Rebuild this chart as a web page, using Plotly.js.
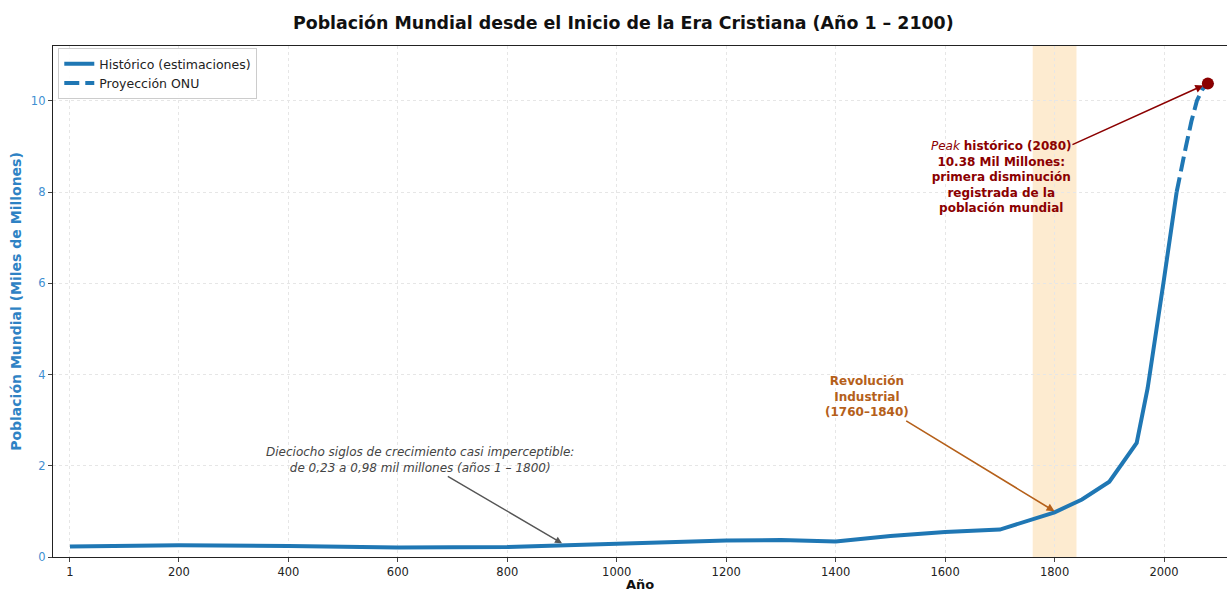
<!DOCTYPE html>
<html>
<head>
<meta charset="utf-8">
<script src="https://cdn.plot.ly/plotly-3.0.1.min.js"></script>
<style>html,body{margin:0;padding:0;background:#fff;}#chart{width:1227px;height:592px;}</style>
</head>
<body>
<div id="chart"></div>
<script>
// Historical estimates (billions)
const histYears = [1, 200, 400, 600, 800, 1000, 1100, 1200, 1300, 1400, 1500, 1600, 1700, 1750, 1800, 1850, 1900, 1950, 1970, 2000, 2023];
const histValues = [0.23, 0.26, 0.24, 0.21, 0.22, 0.30, 0.32, 0.36, 0.37, 0.34, 0.46, 0.55, 0.60, 0.79, 0.98, 1.26, 1.65, 2.50, 3.70, 6.10, 8.00];
// UN projection (billions)
const projYears = [2023, 2030, 2040, 2050, 2060, 2070, 2080, 2090, 2100];
const projValues = [8.00, 8.45, 9.00, 9.55, 10.00, 10.25, 10.38, 10.35, 10.30];
// Peak
const peakYear = [2080];
const peakValue = [10.38];
// Ticks
const xTickVals = [1, 200, 400, 600, 800, 1000, 1200, 1400, 1600, 1800, 2000];
const xTickText = ["1", "200", "400", "600", "800", "1000", "1200", "1400", "1600", "1800", "2000"];
const yTickVals = [0, 2, 4, 6, 8, 10];
const yTickText = ["0", "2", "4", "6", "8", "10"];

const FONT = "DejaVu Sans, Verdana, sans-serif";
const BLUE = "#1f77b4";

const traces = [
  {x: histYears, y: histValues, type: "scatter", mode: "lines", name: "Histórico (estimaciones)",
   line: {color: BLUE, width: 4}},
  {x: projYears, y: projValues, type: "scatter", mode: "lines", name: "Proyección ONU",
   line: {color: BLUE, width: 4, dash: "15px,6px"}},
  {x: peakYear, y: peakValue, type: "scatter", mode: "markers", showlegend: false,
   marker: {color: "#8b0000", size: 12}}
];

const layout = {
  width: 1227, height: 592,
  margin: {l: 53, r: 0, t: 46, b: 35},
  paper_bgcolor: "#fff", plot_bgcolor: "#fff",
  font: {family: FONT, size: 12, color: "#222"},
  title: {text: "<b>Población Mundial desde el Inicio de la Era Cristiana (Año 1 – 2100)</b>",
          x: 0.508, xref: "container", xanchor: "center", y: 0.962, yanchor: "middle",
          font: {family: FONT, size: 17.4, color: "#111"}},
  showlegend: true,
  legend: {x: 0.0045, y: 0.996, xanchor: "left", yanchor: "top",
           bgcolor: "rgba(255,255,255,0.9)", bordercolor: "#cccccc", borderwidth: 1,
           font: {family: FONT, size: 12.5, color: "#222"}, tracegroupgap: 0},
  xaxis: {
    range: [-30, 2115], tickvals: xTickVals, ticktext: xTickText,
    showline: true, linecolor: "#222", linewidth: 1.2, mirror: true,
    ticks: "outside", ticklen: 4, tickcolor: "#444",
    tickfont: {family: FONT, size: 11.5, color: "#222"},
    showgrid: true, gridcolor: "#e6e6e6", griddash: "dot", gridwidth: 1,
    zeroline: false, automargin: false,
    title: {text: "<b>Año</b>", font: {family: FONT, size: 13, color: "#111"}, standoff: 9}
  },
  yaxis: {
    range: [0, 11.2], tickvals: yTickVals, ticktext: yTickText,
    showline: true, linecolor: "#222", linewidth: 1.2,
    ticks: "outside", ticklen: 4, tickcolor: "#444",
    tickfont: {family: FONT, size: 11.5, color: "#3f8fd2"},
    showgrid: true, gridcolor: "#e6e6e6", griddash: "dot", gridwidth: 1,
    zeroline: false, automargin: false,
    title: {text: "<b>Población Mundial (Miles de Millones)</b>", font: {family: FONT, size: 14, color: "#2e82c4"}, standoff: 6}
  },
  shapes: [
    {type: "rect", xref: "x", yref: "paper", x0: 1760, x1: 1840, y0: 0, y1: 1,
     fillcolor: "#fdebd0", line: {width: 0}, layer: "below"}
  ],
  annotations: [
    {x: 900, y: 0.30, xref: "x", yref: "y", ax: 640, ay: 2.13, axref: "x", ayref: "y",
     text: "<i>Dieciocho siglos de crecimiento casi imperceptible:<br>de 0,23 a 0,98 mil millones (años 1 – 1800)</i>",
     font: {family: FONT, size: 12, color: "#444"}, showarrow: true, arrowhead: 2, arrowsize: 1,
     arrowwidth: 1.4, arrowcolor: "#555", align: "center"},
    {x: 1800, y: 1.0, xref: "x", yref: "y", ax: 1457, ay: 3.51, axref: "x", ayref: "y",
     text: "<b>Revolución<br>Industrial<br>(1760–1840)</b>",
     font: {family: FONT, size: 12, color: "#b5601a"}, showarrow: true, arrowhead: 2, arrowsize: 1,
     arrowwidth: 1.6, arrowcolor: "#b5601a", align: "center"},
    {x: 2080, y: 10.38, xref: "x", yref: "y", ax: 1702, ay: 8.33, axref: "x", ayref: "y",
     text: "<i>Peak</i> <b>histórico (2080)</b><br><b>10.38 Mil Millones:</b><br><b>primera disminución</b><br><b>registrada de la</b><br><b>población mundial</b>",
     font: {family: FONT, size: 12, color: "#8b0000"}, showarrow: true, arrowhead: 2, arrowsize: 1,
     arrowwidth: 1.6, arrowcolor: "#8b0000", standoff: 5, align: "center"}
  ]
};

Plotly.newPlot("chart", traces, layout, {displayModeBar: false, staticPlot: true});
</script>
</body>
</html>
